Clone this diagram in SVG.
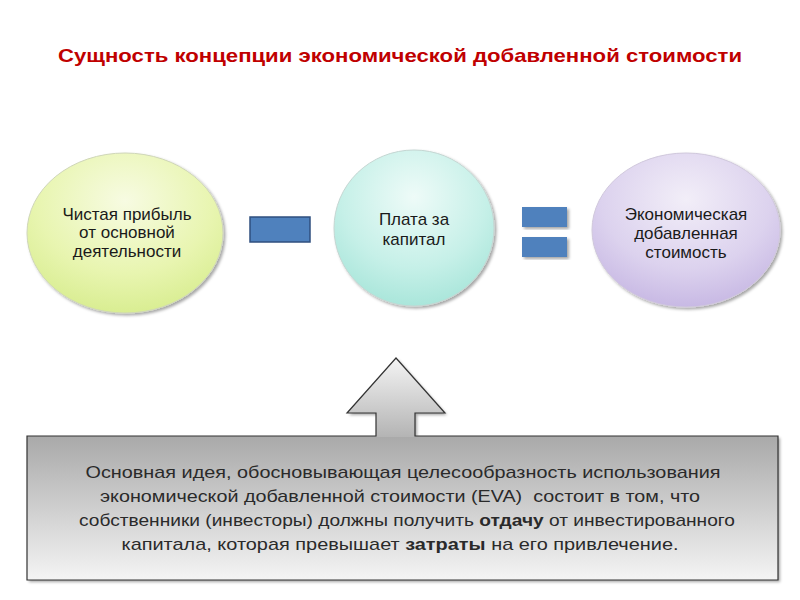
<svg xmlns="http://www.w3.org/2000/svg" width="800" height="600" viewBox="0 0 800 600">
<style>
.title{font-family:"Liberation Sans",Arial,sans-serif;font-weight:bold;font-size:19px;fill:#C00000}
.node{font-family:"Liberation Sans",Arial,sans-serif;font-size:17px;fill:#1a1a1a;text-anchor:middle}
.body{font-family:"Liberation Sans",Arial,sans-serif;font-size:17px;fill:#2a2a2a;text-anchor:middle}
.op{fill:#4f81bd}
</style>
<defs>
<radialGradient id="gY" cx="0.5" cy="0.3" r="0.75">
<stop offset="0" stop-color="#f7fbe2"/><stop offset="0.6" stop-color="#e8f5b0"/><stop offset="1" stop-color="#d6ec8c"/>
</radialGradient>
<radialGradient id="gC" cx="0.5" cy="0.3" r="0.75">
<stop offset="0" stop-color="#eefbf8"/><stop offset="0.6" stop-color="#c6f0e8"/><stop offset="1" stop-color="#a4e4d8"/>
</radialGradient>
<radialGradient id="gP" cx="0.5" cy="0.3" r="0.75">
<stop offset="0" stop-color="#f2eef8"/><stop offset="0.6" stop-color="#dcd2ee"/><stop offset="1" stop-color="#c4b4e2"/>
</radialGradient>
<linearGradient id="gBox" x1="0" y1="0" x2="0" y2="1">
<stop offset="0" stop-color="#a9a9a9"/><stop offset="1" stop-color="#f4f4f4"/>
</linearGradient>
<linearGradient id="gArr" x1="0" y1="0" x2="0" y2="1">
<stop offset="0" stop-color="#f4f4f4"/><stop offset="1" stop-color="#b4b4b4"/>
</linearGradient>
<filter id="sh" x="-10%" y="-10%" width="125%" height="125%">
<feDropShadow dx="2" dy="2" stdDeviation="1.5" flood-color="#000" flood-opacity="0.35"/>
</filter>
</defs>
<rect width="800" height="600" fill="#ffffff"/>
<text class="title" x="400" y="62" text-anchor="middle" textLength="684" lengthAdjust="spacingAndGlyphs">Сущность концепции экономической добавленной стоимости</text>

<g id="node-profit">
<ellipse cx="125" cy="233" rx="98" ry="80" fill="url(#gY)" stroke="#cfd6b8" stroke-width="1" filter="url(#sh)"/>
<text class="node" x="127" y="220">Чистая прибыль</text>
<text class="node" x="127" y="238">от основной</text>
<text class="node" x="127" y="257">деятельности</text>
</g>

<g id="op-minus">
<rect class="op" x="250" y="217" width="60" height="25" stroke="#2f4f7f" stroke-width="1.5"/>
</g>

<g id="node-capital">
<ellipse cx="414" cy="228" rx="80" ry="78" fill="url(#gC)" stroke="#c4d6d2" stroke-width="1" filter="url(#sh)"/>
<text class="node" x="414" y="225">Плата за</text>
<text class="node" x="414" y="245">капитал</text>
</g>

<g id="op-equals">
<rect class="op" x="522" y="207" width="45" height="20" filter="url(#sh)"/>
<rect class="op" x="522" y="237" width="45" height="20" filter="url(#sh)"/>
</g>

<g id="node-eva">
<ellipse cx="686" cy="230" rx="94" ry="77" fill="url(#gP)" stroke="#d0c8dc" stroke-width="1" filter="url(#sh)"/>
<text class="node" x="686" y="220">Экономическая</text>
<text class="node" x="686" y="239">добавленная</text>
<text class="node" x="686" y="258">стоимость</text>
</g>

<g id="idea-box">
<g filter="url(#sh)">
<path d="M27,436 H376 V413 H347 L396,358 L445,413 H415 V436 H778 V580 H27 Z" fill="#ddd"/>
</g>
<rect x="27" y="436" width="751" height="144" fill="url(#gBox)"/>
<path d="M376,437 V413 H347 L396,358 L445,413 H415 V437 Z" fill="url(#gArr)"/>
<path d="M27,436 H376 V413 H347 L396,358 L445,413 H415 V436 H778 V580 H27 Z" fill="none" stroke="#333" stroke-width="1.2"/>
<text class="body" x="403" y="478" textLength="635" lengthAdjust="spacingAndGlyphs">Основная идея, обосновывающая целесообразность использования</text>
<text class="body" x="400" y="502" textLength="600" lengthAdjust="spacingAndGlyphs">экономической добавленной стоимости (EVA)&#160; состоит в том, что</text>
<text class="body" x="407" y="526" textLength="656" lengthAdjust="spacingAndGlyphs">собственники (инвесторы) должны получить <tspan font-weight="bold">отдачу</tspan> от инвестированного</text>
<text class="body" x="400" y="550" textLength="557" lengthAdjust="spacingAndGlyphs">капитала, которая превышает <tspan font-weight="bold">затраты</tspan> на его привлечение.</text>
</g>
</svg>
